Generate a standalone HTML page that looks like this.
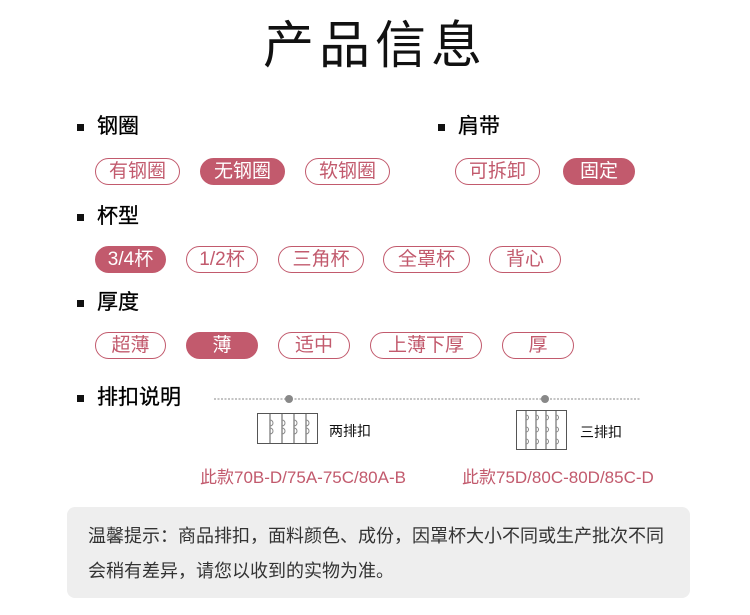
<!DOCTYPE html>
<html><head><meta charset="utf-8"><style>
body{margin:0;width:750px;height:615px;background:#fff;position:relative;overflow:hidden;font-family:"Liberation Sans","Noto Sans CJK SC",sans-serif}
.a{position:absolute}
.t{position:absolute;left:0;width:750px;top:4px;text-align:center;font-size:51px;color:#111;letter-spacing:5px}
.h{position:absolute;font-size:21px;color:#000;line-height:24px;-webkit-text-stroke:0.3px #000}
.h:before{content:"";position:absolute;left:-20px;top:9px;width:7px;height:7px;background:#111}
.p{position:absolute;height:25px;border:1.5px solid #c25a6d;border-radius:14px;color:#c25a6d;font-size:19px;line-height:25px;text-align:center;box-sizing:content-box}
.f{background:#c25a6d;color:#fff}
.r{position:absolute;color:#c25a6d;font-size:17px}
</style></head><body>
<div class="t">产品信息</div>
<div class="h" style="left:97px;top:115px">钢圈</div>
<div class="h" style="left:458px;top:115px">肩带</div>
<div class="h" style="left:97px;top:205px">杯型</div>
<div class="h" style="left:97px;top:291px">厚度</div>
<div class="h" style="left:97px;top:386px">排扣说明</div>

<div class="p" style="left:95px;top:158px;width:83px">有钢圈</div>
<div class="p f" style="left:200px;top:158px;width:83px">无钢圈</div>
<div class="p" style="left:305px;top:158px;width:83px">软钢圈</div>
<div class="p" style="left:455px;top:158px;width:83px">可拆卸</div>
<div class="p f" style="left:563px;top:158px;width:70px">固定</div>

<div class="p f" style="left:95px;top:246px;width:69px">3/4杯</div>
<div class="p" style="left:186px;top:246px;width:70px">1/2杯</div>
<div class="p" style="left:278px;top:246px;width:84px">三角杯</div>
<div class="p" style="left:383px;top:246px;width:85px">全罩杯</div>
<div class="p" style="left:489px;top:246px;width:70px">背心</div>

<div class="p" style="left:95px;top:332px;width:69px">超薄</div>
<div class="p f" style="left:186px;top:332px;width:70px">薄</div>
<div class="p" style="left:278px;top:332px;width:70px">适中</div>
<div class="p" style="left:370px;top:332px;width:110px">上薄下厚</div>
<div class="p" style="left:502px;top:332px;width:70px">厚</div>

<svg class="a" style="left:0;top:0" width="750" height="615">
<line x1="214" y1="399" x2="641" y2="399" stroke="#888" stroke-dasharray="2,1.5" stroke-width="1"/>
<circle cx="289" cy="399" r="4" fill="#888"/><circle cx="545" cy="399" r="4" fill="#888"/>
<g fill="none" stroke="#555" stroke-width="1">
<rect x="257.5" y="413.5" width="60" height="30"/>
<line x1="270" y1="414" x2="270" y2="443"/><line x1="282" y1="414" x2="282" y2="443"/><line x1="294" y1="414" x2="294" y2="443"/><line x1="306" y1="414" x2="306" y2="443"/>
<rect x="516.5" y="410.5" width="50" height="39"/>
<line x1="526" y1="411" x2="526" y2="449"/><line x1="536" y1="411" x2="536" y2="449"/><line x1="546" y1="411" x2="546" y2="449"/><line x1="556" y1="411" x2="556" y2="449"/>
</g>
<g fill="none" stroke="#888" stroke-width="1">
<path d="M270 420a3 3 0 0 1 0 6M270 428a3 3 0 0 1 0 6M282 420a3 3 0 0 1 0 6M282 428a3 3 0 0 1 0 6M294 420a3 3 0 0 1 0 6M294 428a3 3 0 0 1 0 6M306 420a3 3 0 0 1 0 6M306 428a3 3 0 0 1 0 6"/>
<path d="M526 415a2.5 2.5 0 0 1 0 5M526 427a2.5 2.5 0 0 1 0 5M526 439a2.5 2.5 0 0 1 0 5M536 415a2.5 2.5 0 0 1 0 5M536 427a2.5 2.5 0 0 1 0 5M536 439a2.5 2.5 0 0 1 0 5M546 415a2.5 2.5 0 0 1 0 5M546 427a2.5 2.5 0 0 1 0 5M546 439a2.5 2.5 0 0 1 0 5M556 415a2.5 2.5 0 0 1 0 5M556 427a2.5 2.5 0 0 1 0 5M556 439a2.5 2.5 0 0 1 0 5"/>
</g>
</svg>
<div class="a" style="left:329px;top:421px;font-size:14px;color:#111">两排扣</div>
<div class="a" style="left:580px;top:422px;font-size:14px;color:#111">三排扣</div>
<div class="r" style="left:200px;top:463px">此款70B-D/75A-75C/80A-B</div>
<div class="r" style="left:462px;top:463px">此款75D/80C-80D/85C-D</div>
<div class="a" style="left:67px;top:507px;width:623px;height:91px;background:#eeeeee;border-radius:8px"></div>
<div class="a" style="left:88px;top:519px;font-size:18px;color:#333;line-height:35px;white-space:nowrap">温馨提示：商品排扣，面料颜色、成份，因罩杯大小不同或生产批次不同<br>会稍有差异，请您以收到的实物为准。</div>
</body></html>
